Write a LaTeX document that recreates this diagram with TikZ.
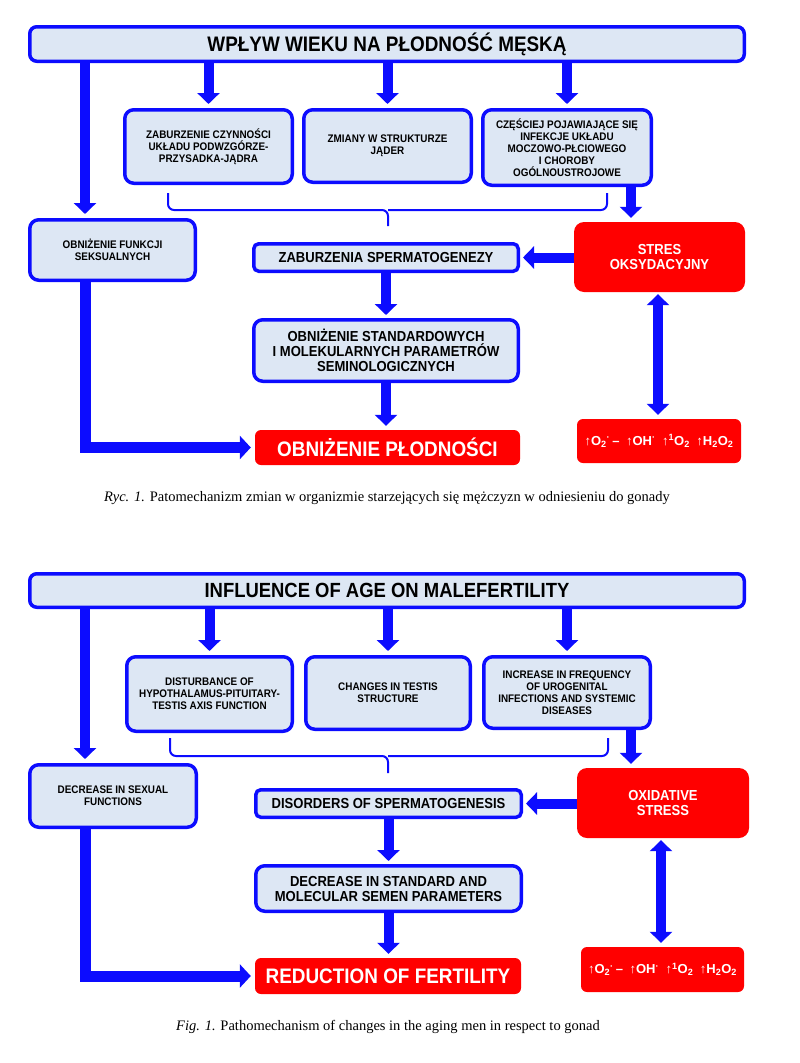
\documentclass[tikz,border=0pt]{standalone}
\usepackage{fontspec}
\setmainfont{Liberation Serif}
\newfontfamily\nar[FakeStretch=0.9]{Liberation Sans}
\newfontfamily\plainsans{Liberation Sans}
\usetikzlibrary{arrows.meta,calc}
\definecolor{bl}{RGB}{12,12,255}
\definecolor{bfill}{RGB}{221,231,244}
\definecolor{rd}{RGB}{255,0,0}
\newcommand\upar{{\mdseries\plainsans ↑}}
\newcommand\fml{\upar O\textsubscript{2}\textsuperscript{·}\,–\enspace\upar OH\textsuperscript{·}\enspace\upar\textsuperscript{1}O\textsubscript{2}\enspace\upar H\textsubscript{2}O\textsubscript{2}}
\begin{document}
\begin{tikzpicture}[x=1pt,y=-1pt,
  bbox/.style={draw=bl, line width=3.5pt, fill=bfill, rounded corners=9pt, align=center, inner sep=0pt},
  rbox/.style={fill=rd, rounded corners=8pt, align=center, inner sep=0pt, text=white},
  fhead/.style={font=\nar\bfseries\fontsize{21}{24}\selectfont},
  fsm/.style={font=\nar\bfseries\fontsize{11}{12}\selectfont},
  fmd/.style={font=\nar\bfseries\fontsize{14.5}{15}\selectfont},
  fbig/.style={font=\nar\bfseries\fontsize{21}{24}\selectfont},
  ffor/.style={font=\plainsans\bfseries\fontsize{13}{15}\selectfont},
  fcap/.style={font=\fontsize{14.5}{17}\selectfont},
  arr/.style={draw=bl, line width=10pt, -{Triangle[width=22pt,length=11pt]}},
  arrL/.style={draw=bl, line width=11pt, -{Triangle[width=23pt,length=11pt]}},
  darr/.style={draw=bl, line width=10pt, {Triangle[width=22pt,length=11pt]}-{Triangle[width=22pt,length=11pt]}},
  brc/.style={draw=bl, line width=2pt, rounded corners=6pt},
]
\useasboundingbox (0,0) rectangle (800,1063);

% ================= TOP (Polish) =================
\node[bbox, rounded corners=7pt, minimum width=714.5pt, minimum height=34.5pt, fhead] (h1) at (387,44) {WPŁYW WIEKU NA PŁODNOŚĆ MĘSKĄ};
\node[bbox, minimum width=167.5pt, minimum height=73.5pt, fsm] (b1) at (208.5,146.5) {ZABURZENIE CZYNNOŚCI\\UKŁADU PODWZGÓRZE-\\PRZYSADKA-JĄDRA};
\node[bbox, minimum width=167.5pt, minimum height=72.5pt, fsm] (b2) at (387.5,146) {ZMIANY W STRUKTURZE\\JĄDER};
\node[bbox, minimum width=168.5pt, minimum height=75.5pt, fsm] (b3) at (567,147.5) {CZĘŚCIEJ POJAWIAJĄCE SIĘ\\INFEKCJE UKŁADU\\MOCZOWO-PŁCIOWEGO\\I CHOROBY\\OGÓLNOUSTROJOWE};
\node[bbox, minimum width=165.5pt, minimum height=60.5pt, fsm] (lb1) at (112.5,250) {OBNIŻENIE FUNKCJI\\SEKSUALNYCH};
\node[bbox, rounded corners=5pt, minimum width=264.5pt, minimum height=27.5pt, fmd] (z1) at (386,257.5) {ZABURZENIA SPERMATOGENEZY};
\node[bbox, minimum width=264.5pt, minimum height=61.5pt, fmd] (o1) at (386,350.5) {OBNIŻENIE STANDARDOWYCH\\I MOLEKULARNYCH PARAMETRÓW\\SEMINOLOGICZNYCH};
\node[rbox, rounded corners=6pt, minimum width=265pt, minimum height=35pt, fbig] (r1) at (387.5,447.5) {OBNIŻENIE PŁODNOŚCI};
\node[rbox, rounded corners=10pt, minimum width=171pt, minimum height=70pt, fmd] (s1) at (659.5,257) {STRES\\OKSYDACYJNY};
\node[rbox, rounded corners=6pt, minimum width=164pt, minimum height=44pt, ffor] (f1) at (659,441) {\fml};

\coordinate (L1) at (85,0);
\coordinate (C1) at (631,0);
\coordinate (D1) at (658,0);

\draw[arr, shorten >=4pt] (h1.south -| b1.north) -- (b1.north);
\draw[arr, shorten >=4pt] (h1.south -| b2.north) -- (b2.north);
\draw[arr, shorten >=4pt] (h1.south -| b3.north) -- (b3.north);
\draw[arr, shorten >=4pt] (h1.south -| L1) -- (lb1.north -| L1);
\draw[arr, shorten >=4pt] (b3.south -| C1) -- (s1.north -| C1);
\draw[arr, shorten >=3pt] (s1.west |- z1.east) -- (z1.east);
\draw[arr, shorten >=3pt] (z1.south) -- (o1.north);
\draw[arr, shorten >=4pt] (o1.south) -- (o1.south |- r1.north);
\draw[arrL, shorten >=4pt] (lb1.south -| L1) |- (r1.west);
\draw[darr, shorten <=2pt, shorten >=4pt] (s1.south -| D1) -- (f1.north -| D1);

\coordinate (bl1) at (168,193);
\coordinate (br1) at (607,193);
\coordinate (bt1) at (388,226);
\draw[brc] (bl1) -- (168,210) -- (388,210) -- (bt1);
\draw[brc] (br1) -- (607,210) -- (388,210);

\node[fcap] (cap1) at (387,498) {\textit{Ryc. 1.} Patomechanizm zmian w organizmie starzejących się mężczyzn w odniesieniu do gonady};

% ================= BOTTOM (English) =================
\node[bbox, rounded corners=7pt, minimum width=714.5pt, minimum height=33.5pt, font=\nar\bfseries\fontsize{20.5}{24}\selectfont] (h2) at (387,590.5) {INFLUENCE OF AGE ON MALEFERTILITY};
\node[bbox, minimum width=165.5pt, minimum height=74.5pt, fsm] (b4) at (209.5,694) {DISTURBANCE OF\\HYPOTHALAMUS-PITUITARY-\\TESTIS AXIS FUNCTION};
\node[bbox, minimum width=164.5pt, minimum height=72.5pt, fsm] (b5) at (388,693) {CHANGES IN TESTIS\\STRUCTURE};
\node[bbox, minimum width=166.5pt, minimum height=71.5pt, fsm] (b6) at (567,692.5) {INCREASE IN FREQUENCY\\OF UROGENITAL\\INFECTIONS AND SYSTEMIC\\DISEASES};
\node[bbox, minimum width=166.5pt, minimum height=62.5pt, fsm] (lb2) at (113,796) {DECREASE IN SEXUAL\\FUNCTIONS};
\node[bbox, rounded corners=5pt, minimum width=265.5pt, minimum height=27.5pt, fmd] (z2) at (388.5,803.5) {DISORDERS OF SPERMATOGENESIS};
\node[bbox, minimum width=265.5pt, minimum height=45.5pt, fmd] (o2) at (388.5,888.5) {DECREASE IN STANDARD AND\\MOLECULAR SEMEN PARAMETERS};
\node[rbox, rounded corners=6pt, minimum width=266pt, minimum height=36pt, fbig] (r2) at (388,976) {REDUCTION OF FERTILITY};
\node[rbox, rounded corners=10pt, minimum width=172pt, minimum height=70pt, fmd] (s2) at (663,803) {OXIDATIVE\\STRESS};
\node[rbox, rounded corners=6pt, minimum width=163pt, minimum height=45pt, ffor] (f2) at (662.5,969.5) {\fml};

\coordinate (C2) at (631,0);
\coordinate (D2) at (661,0);

\draw[arr, shorten >=4pt] (h2.south -| b4.north) -- (b4.north);
\draw[arr, shorten >=4pt] (h2.south -| b5.north) -- (b5.north);
\draw[arr, shorten >=4pt] (h2.south -| b6.north) -- (b6.north);
\draw[arr, shorten >=4pt] (h2.south -| L1) -- (lb2.north -| L1);
\draw[arr, shorten >=4pt] (b6.south -| C2) -- (s2.north -| C2);
\draw[arr, shorten >=3pt] (s2.west |- z2.east) -- (z2.east);
\draw[arr, shorten >=3pt] (z2.south) -- (o2.north);
\draw[arr, shorten >=4pt] (o2.south) -- (o2.south |- r2.north);
\draw[arrL, shorten >=4pt] (lb2.south -| L1) |- (r2.west);
\draw[darr, shorten <=2pt, shorten >=4pt] (s2.south -| D2) -- (f2.north -| D2);

\coordinate (bl2) at (170,738);
\coordinate (br2) at (608,738);
\coordinate (bt2) at (388,773);
\draw[brc] (bl2) -- (170,756) -- (388,756) -- (bt2);
\draw[brc] (br2) -- (608,756) -- (388,756);

\node[fcap] (cap2) at (388,1027) {\textit{Fig. 1.} Pathomechanism of changes in the aging men in respect to gonad};
\end{tikzpicture}
\end{document}
